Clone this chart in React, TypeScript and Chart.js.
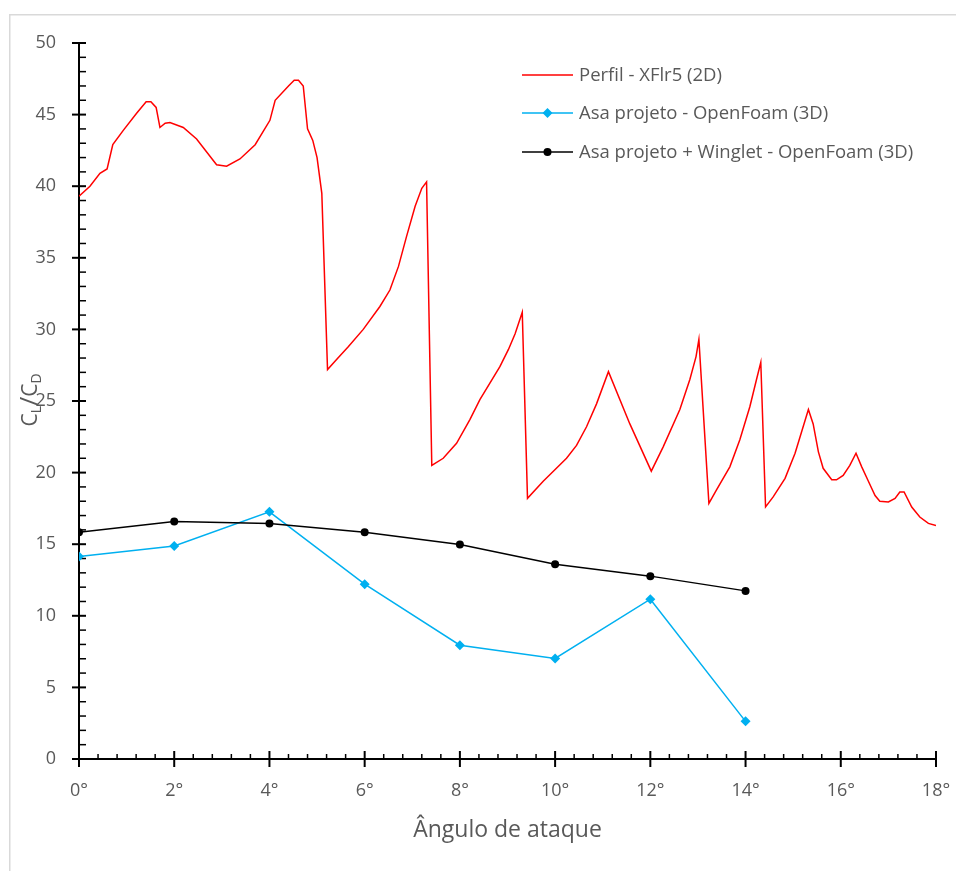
import React, { useEffect, useRef } from "react";
import { Chart, registerables } from "chart.js";

Chart.register(...registerables);

// ---- Data ----
const angles = [0, 2, 4, 6, 8, 10, 12, 14];
const asaProjeto = [14.14, 14.88, 17.26, 12.21, 7.95, 7.02, 11.16, 2.63];
const asaWinglet = [15.84, 16.58, 16.44, 15.84, 14.98, 13.6, 12.77, 11.74];

const perfilAlpha = [
  0.0, 0.23, 0.44, 0.59, 0.71, 0.93, 1.21, 1.41, 1.51, 1.62, 1.7, 1.81, 1.91,
  2.19, 2.47, 2.89, 3.1, 3.38, 3.7, 4.01, 4.12, 4.4, 4.52, 4.61, 4.71, 4.8,
  4.91, 5.0, 5.1, 5.22, 5.41, 5.66, 5.97, 6.32, 6.53, 6.71, 6.88, 7.06, 7.2,
  7.3, 7.41, 7.65, 7.93, 8.21, 8.42, 8.84, 9.02, 9.16, 9.31, 9.42, 9.75, 10.24,
  10.45, 10.66, 10.87, 11.12, 11.57, 12.02, 12.27, 12.62, 12.83, 12.96, 13.02,
  13.23, 13.39, 13.67, 13.88, 14.09, 14.23, 14.32, 14.42, 14.58, 14.83, 15.04,
  15.32, 15.42, 15.53, 15.63, 15.81, 15.91, 16.05, 16.19, 16.32, 16.44, 16.58,
  16.72, 16.82, 17.0, 17.14, 17.24, 17.33, 17.49, 17.66, 17.84, 18.0,
];
const perfilLD = [
  39.3, 40.0, 40.9, 41.2, 42.9, 43.9, 45.1, 45.9, 45.9, 45.5, 44.1, 44.4, 44.45,
  44.1, 43.3, 41.5, 41.4, 41.9, 42.9, 44.6, 46.0, 47.0, 47.4, 47.4, 47.0, 44.0,
  43.2, 42.0, 39.5, 27.2, 27.9, 28.8, 30.0, 31.6, 32.75, 34.4, 36.5, 38.6, 39.85,
  40.3, 20.5, 21.0, 22.05, 23.7, 25.1, 27.4, 28.6, 29.7, 31.2, 18.2, 19.4, 21.0,
  21.9, 23.2, 24.8, 27.05, 23.4, 20.1, 21.8, 24.4, 26.5, 28.1, 29.3,
  17.85, 18.8, 20.4, 22.3, 24.6, 26.5, 27.7, 17.6, 18.3, 19.6, 21.35,
  24.4, 23.4, 21.45, 20.3, 19.5, 19.5, 19.8, 20.5, 21.35, 20.4, 19.4,
  18.4, 18.0, 17.95, 18.2, 18.65, 18.65, 17.6, 16.9, 16.45, 16.3,
];

const seriesNames = [
  "Perfil - XFlr5 (2D)",
  "Asa projeto - OpenFoam (3D)",
  "Asa projeto + Winglet - OpenFoam (3D)",
];
const seriesColors = ["#FF0000", "#00B0F0", "#000000"];
const xTitle = "Ângulo de ataque";
const xMin = 0, xMax = 18, xMajor = 2, xMinor = 0.4;
const yMin = 0, yMax = 50, yMajor = 5, yMinor = 1;

const GRAY = "#595959";
const FONT = "'Open Sans', 'DejaVu Sans', sans-serif";

const decorPlugin = {
  id: "decor",
  beforeDraw(chart: any) {
    const ctx = chart.ctx;
    ctx.save();
    ctx.strokeStyle = "#d9d9d9";
    ctx.lineWidth = 1.5;
    ctx.strokeRect(9.75, 14.75, 1200, 1200);
    ctx.restore();
  },
  beforeDatasetsDraw(chart: any) {
    const { ctx } = chart;
    const x = chart.scales.x;
    const y = chart.scales.y;
    const x0 = x.getPixelForValue(xMin);
    const x1 = x.getPixelForValue(xMax);
    const y0 = y.getPixelForValue(yMin);
    const y1 = y.getPixelForValue(yMax);
    ctx.save();
    ctx.strokeStyle = "#000";
    ctx.lineWidth = 2;
    ctx.beginPath();
    ctx.moveTo(x0, y1);
    ctx.lineTo(x0, y0);
    ctx.lineTo(x1, y0);
    ctx.stroke();
    const nx = Math.round((xMax - xMin) / xMinor);
    const every = Math.round(xMajor / xMinor);
    for (let i = 0; i <= nx; i++) {
      const px = x.getPixelForValue(xMin + i * xMinor);
      const major = i % every === 0;
      ctx.lineWidth = major ? 2 : 1.5;
      ctx.beginPath();
      ctx.moveTo(px, major ? y0 + 8 : y0);
      ctx.lineTo(px, major ? y0 - 8 : y0 - 5);
      ctx.stroke();
    }
    const ny = Math.round((yMax - yMin) / yMinor);
    const everyY = Math.round(yMajor / yMinor);
    for (let i = 0; i <= ny; i++) {
      const py = y.getPixelForValue(yMin + i * yMinor);
      const major = i % everyY === 0;
      ctx.lineWidth = major ? 2 : 1.5;
      ctx.beginPath();
      ctx.moveTo(major ? x0 - 7 : x0, py);
      ctx.lineTo(x0 + 7, py);
      ctx.stroke();
    }
    ctx.restore();
  },
  afterDraw(chart: any) {
    const { ctx, chartArea } = chart;
    ctx.save();
    // x title
    ctx.fillStyle = GRAY;
    ctx.font = `23px ${FONT}`;
    ctx.textAlign = "center";
    ctx.textBaseline = "middle";
    ctx.fillText(xTitle, (chartArea.left + chartArea.right) / 2, 830);

    // y title C_L / C_D
    ctx.save();
    ctx.translate(37, 400);
    ctx.rotate(-Math.PI / 2);
    ctx.textAlign = "left";
    ctx.textBaseline = "alphabetic";
    const pieces = [
      { t: "C", f: 21, dy: 0 },
      { t: "L", f: 14, dy: 4 },
      { t: "/", f: 25, dy: 1 },
      { t: "C", f: 21, dy: 0 },
      { t: "D", f: 14, dy: 4 },
    ];
    let total = 0;
    const widths = pieces.map((p) => {
      ctx.font = `${p.f}px ${FONT}`;
      const w = ctx.measureText(p.t).width;
      total += w;
      return w;
    });
    let cx = -total / 2;
    pieces.forEach((p, i) => {
      ctx.font = `${p.f}px ${FONT}`;
      ctx.fillText(p.t, cx, p.dy);
      cx += widths[i];
    });
    ctx.restore();

    // legend
    const rows = [75, 113, 152];
    const lx0 = 522, lx1 = 573, tx = 579;
    ctx.font = `18.5px ${FONT}`;
    ctx.textAlign = "left";
    ctx.textBaseline = "middle";
    rows.forEach((ry, i) => {
      ctx.strokeStyle = seriesColors[i];
      ctx.lineWidth = 1.5;
      ctx.beginPath();
      ctx.moveTo(lx0, ry);
      ctx.lineTo(lx1, ry);
      ctx.stroke();
      const mx = (lx0 + lx1) / 2;
      ctx.fillStyle = seriesColors[i];
      if (i === 1) {
        const r = 5;
        ctx.beginPath();
        ctx.moveTo(mx, ry - r);
        ctx.lineTo(mx + r, ry);
        ctx.lineTo(mx, ry + r);
        ctx.lineTo(mx - r, ry);
        ctx.closePath();
        ctx.fill();
      } else if (i === 2) {
        ctx.beginPath();
        ctx.arc(mx, ry, 4, 0, Math.PI * 2);
        ctx.fill();
      }
      ctx.fillStyle = GRAY;
      ctx.fillText(seriesNames[i], tx, ry + 1);
    });
    ctx.restore();
  },
};

export default function App() {
  const ref = useRef<HTMLCanvasElement | null>(null);

  useEffect(() => {
    if (!ref.current) return;
    const chart = new Chart(ref.current, {
      type: "line",
      data: {
        datasets: [
          {
            label: seriesNames[0],
            data: perfilAlpha.map((a, i) => ({ x: a, y: perfilLD[i] })),
            borderColor: seriesColors[0],
            backgroundColor: seriesColors[0],
            borderWidth: 1.5,
            pointRadius: 0,
            tension: 0,
            order: 3,
          },
          {
            label: seriesNames[1],
            data: angles.map((a, i) => ({ x: a, y: asaProjeto[i] })),
            borderColor: seriesColors[1],
            backgroundColor: seriesColors[1],
            borderWidth: 1.5,
            pointStyle: "rectRot",
            pointRadius: 5,
            pointBorderWidth: 0,
            tension: 0,
            order: 2,
          },
          {
            label: seriesNames[2],
            data: angles.map((a, i) => ({ x: a, y: asaWinglet[i] })),
            borderColor: seriesColors[2],
            backgroundColor: seriesColors[2],
            borderWidth: 1.5,
            pointStyle: "circle",
            pointRadius: 4,
            pointBorderWidth: 0,
            tension: 0,
            order: 1,
          },
        ],
      },
      options: {
        animation: false,
        responsive: false,
        maintainAspectRatio: false,
        layout: { padding: { left: 0, right: 20, top: 43, bottom: 0 } },
        plugins: {
          legend: { display: false },
          tooltip: { enabled: false },
        },
        scales: {
          x: {
            type: "linear",
            min: xMin,
            max: xMax,
            grid: { display: false, drawTicks: false },
            border: { display: false },
            afterFit: (s: any) => {
              s.height = 112;
              s.paddingLeft = 0;
              s.paddingRight = 0;
            },
            ticks: {
              stepSize: xMajor,
              padding: 21,
              color: GRAY,
              font: { family: FONT, size: 18 },
              maxRotation: 0,
              callback: (v: any) => `${v}°`,
            },
          },
          y: {
            type: "linear",
            min: yMin,
            max: yMax,
            grid: { display: false, drawTicks: false },
            border: { display: false },
            afterFit: (s: any) => {
              s.width = 79;
              s.paddingTop = 0;
              s.paddingBottom = 0;
            },
            ticks: {
              stepSize: yMajor,
              padding: 23,
              color: GRAY,
              font: { family: FONT, size: 18 },
            },
          },
        },
      },
      plugins: [decorPlugin],
    });
    return () => chart.destroy();
  }, []);

  return (
    <div style={{ position: "fixed", left: 0, top: 0, width: 956, height: 871, background: "#fff" }}>
      <canvas ref={ref} width={956} height={871} style={{ width: 956, height: 871, display: "block" }} />
    </div>
  );
}
